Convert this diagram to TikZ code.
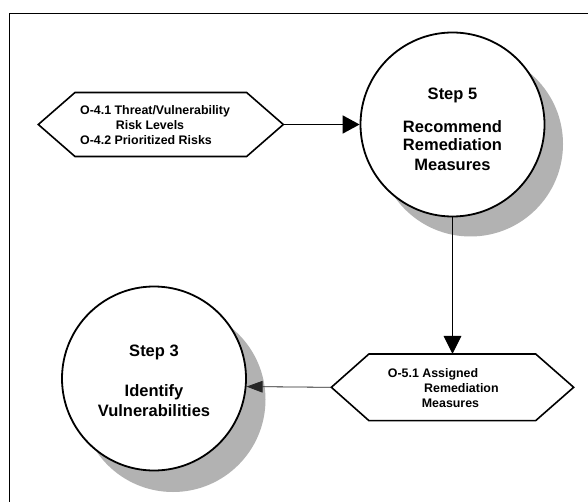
\documentclass[tikz,border=0pt]{standalone}
\usepackage{fontspec}
\setmainfont{Liberation Sans}
\usetikzlibrary{arrows.meta}
\definecolor{shadowgray}{RGB}{178,178,178}
\begin{document}
\begin{tikzpicture}[x=1pt,y=-1pt,
  stepcircle/.style={circle, draw=black, line width=1.8pt, fill=white, minimum size=184pt, inner sep=0pt},
  shadowdisc/.style={circle, fill=shadowgray, minimum size=185pt, inner sep=0pt},
  hexbox/.style={rectangle, inner sep=0pt, outer sep=0pt},
  hexline/.style={draw=black, line width=1.6pt, fill=white, line join=miter},
  bigtxt/.style={font=\fontsize{16.5pt}{19pt}\selectfont\bfseries, inner sep=0pt, anchor=base},
  smalltxt/.style={font=\fontsize{12.4pt}{15pt}\selectfont\bfseries, inner sep=0pt, anchor=base west},
  framepen/.style={line width=1.5pt, draw=black},
]
\useasboundingbox (0,0) rectangle (588,502);
\fill[white] (0,0) rectangle (588,502);
% frame (continues beyond the picture at right and bottom)
\draw[framepen] (9.3,510) -- (9.3,13.3) -- (595,13.3);

% shadows
\node[shadowdisc] (s5shadow) at (470.5,144) {};
\node[shadowdisc] (s3shadow) at (173,399.5) {};

% circles
\node[stepcircle] (step5) at (452.5,124.5) {};
\node[stepcircle] (step3) at (154,378.5) {};

% hexagon 1
\node[hexbox, minimum width=245pt, minimum height=64pt] (hex1) at (160.8,124.5) {};
\draw[hexline] (hex1.west) -- ([xshift=36.7pt]hex1.north west) -- ([xshift=-36.7pt]hex1.north east)
  -- (hex1.east) -- ([xshift=-36.7pt]hex1.south east) -- ([xshift=36.7pt]hex1.south west) -- cycle;

% hexagon 2
\node[hexbox, minimum width=242.3pt, minimum height=66.7pt] (hex2) at (452.5,387.3) {};
\draw[hexline] (hex2.west) -- ([xshift=37.6pt]hex2.north west) -- ([xshift=-38pt]hex2.north east)
  -- (hex2.east) -- ([xshift=-38pt]hex2.south east) -- ([xshift=37.6pt]hex2.south west) -- cycle;

% texts
\node[bigtxt] (t5a) at (452.5,100) {Step 5};
\node[bigtxt] (t5b) at (452.5,132.6) {Recommend};
\node[bigtxt] (t5c) at (452.5,151) {Remediation};
\node[bigtxt] (t5d) at (452.5,170.2) {Measures};

\node[bigtxt] (t3a) at (154,356) {Step 3};
\node[bigtxt] (t3b) at (154,396.5) {Identify};
\node[bigtxt] (t3c) at (154,416) {Vulnerabilities};

\node[smalltxt] (h1a) at (80,115) {O-4.1 Threat/Vulnerability};
\node[smalltxt] (h1b) at (115.7,130) {Risk Levels};
\node[smalltxt] (h1c) at (80,145) {O-4.2 Prioritized Risks};

\node[smalltxt] (h2a) at (387.7,377.4) {O-5.1 Assigned};
\node[smalltxt] (h2b) at (424,392.2) {Remediation};
\node[smalltxt] (h2c) at (421.7,407) {Measures};

% connectors
\draw[line width=1.7pt, -{Triangle[length=17pt,width=18pt]}] (hex1.east) -- (step5);
\draw[line width=1.1pt, -{Triangle[length=18pt,width=17.6pt]}] (step5.south) -- (hex2.north);
\draw[line width=0.8pt, draw=black!85, -{Triangle[length=16pt,width=11.6pt]}] (hex2.west) -- (step3.-5.5);
\end{tikzpicture}
\end{document}
